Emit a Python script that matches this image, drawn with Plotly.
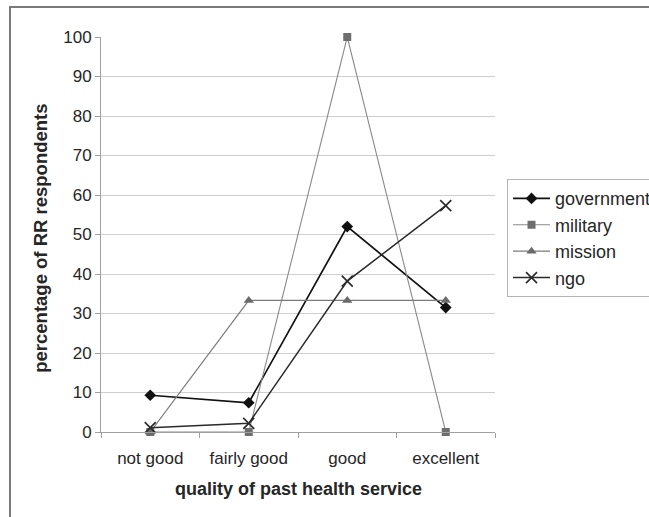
import plotly.graph_objects as go

# Survey results: share of RR respondents by rating of past health service
categories = ["not good", "fairly good", "good", "excellent"]
government = [9.3, 7.4, 52.0, 31.5]
military = [0.0, 0.0, 100.0, 0.0]
mission = [0.0, 33.3, 33.3, 33.3]
ngo = [1.1, 2.2, 38.2, 57.3]
y_ticks = list(range(0, 101, 10))

FONT = "Liberation Sans, Arial, sans-serif"
TEXT = "#262626"

series = [
    ("government", government, "#111111", 1.7, "diamond", 9, "#111111"),
    ("military", military, "#8a8a8a", 1.1, "square", 8, "#6e6e6e"),
    ("mission", mission, "#7a7a7a", 1.2, "triangle-up", 9, "#6a6a6a"),
    ("ngo", ngo, "#2a2a2a", 1.5, "x-thin-open", 11, "#2a2a2a"),
]

fig = go.Figure()
for name, vals, lc, lw, sym, ms, mc in series:
    fig.add_trace(go.Scatter(
        x=categories, y=vals, name=name, mode="lines+markers",
        line=dict(color=lc, width=lw),
        marker=dict(symbol=sym, size=ms, color=mc,
                    line=dict(color=mc, width=1.6 if sym.startswith("x") else 0)),
        cliponaxis=False,
    ))

fig.update_layout(
    width=649, height=517,
    margin=dict(l=101, r=154, t=37, b=85, autoexpand=False),
    paper_bgcolor="white", plot_bgcolor="white",
    font=dict(family=FONT, size=17, color=TEXT),
    showlegend=True,
    legend=dict(
        x=1.0305, xanchor="left", y=0.64, yanchor="top",
        bgcolor="white", bordercolor="#b4b4b4", borderwidth=1,
        font=dict(family=FONT, size=18, color=TEXT),
        itemwidth=37,
    ),
    xaxis=dict(
        type="category", range=[-0.5, 3.5],
        showline=True, linecolor="#a0a0a0", linewidth=1,
        ticks="outside", tickson="boundaries", ticklen=5, tickcolor="#a0a0a0",
        showgrid=False, zeroline=False, ticklabelstandoff=11,
        tickfont=dict(size=17, color=TEXT),
    ),
    yaxis=dict(
        range=[0, 100], tickvals=y_ticks,
        showline=True, linecolor="#a0a0a0", linewidth=1,
        ticks="outside", ticklen=5, tickcolor="#a0a0a0",
        showgrid=True, gridcolor="#cfcfcf", gridwidth=1, zeroline=False,
        tickfont=dict(size=17, color=TEXT),
    ),
    annotations=[
        dict(text="<b>quality of past health service</b>", xref="paper", yref="paper",
             x=0.5, y=-0.145, xanchor="center", yanchor="middle", showarrow=False,
             font=dict(family=FONT, size=18, color=TEXT)),
        dict(text="<b>percentage of RR respondents</b>", xref="paper", yref="paper",
             x=-0.154, y=0.49, xanchor="center", yanchor="middle", showarrow=False,
             textangle=-90, font=dict(family=FONT, size=18.5, color=TEXT)),
    ],
    shapes=[
        # outer chart frame (runs off the right and bottom edges)
        dict(type="rect", xref="paper", yref="paper",
             x0=-0.231, x1=2.0, y0=-0.5, y1=1.076,
             line=dict(color="#7a7a7a", width=2), fillcolor="rgba(0,0,0,0)",
             layer="below"),
    ],
)

fig.write_html("out.html")
